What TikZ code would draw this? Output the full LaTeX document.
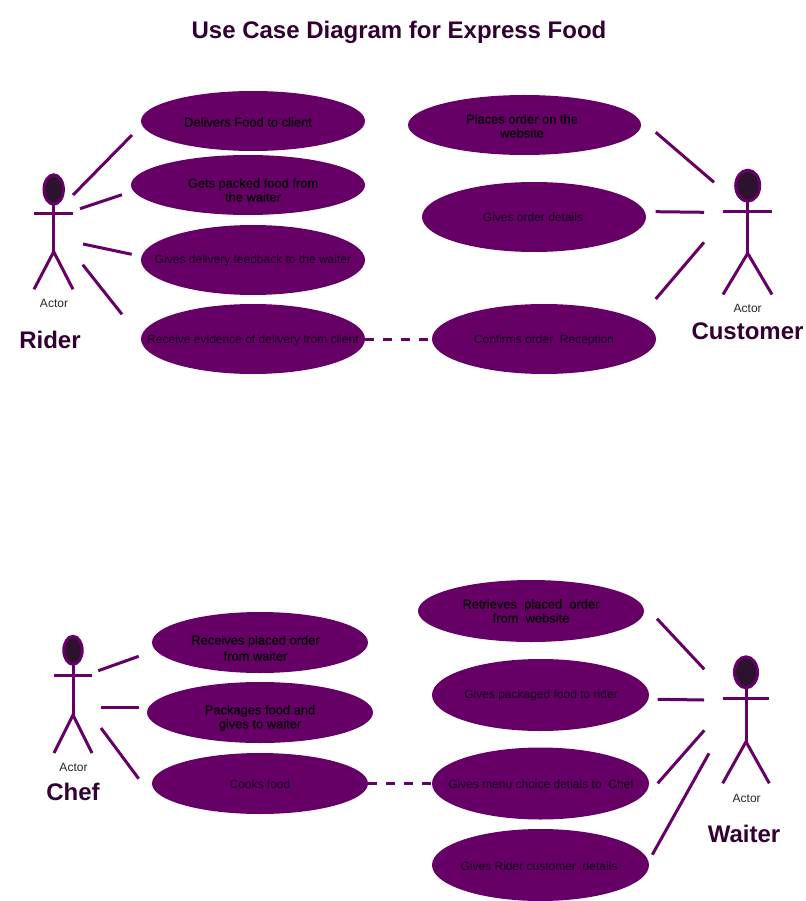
\documentclass[tikz,border=0pt]{standalone}
\usepackage{fontspec}
\setmainfont{Liberation Sans}
\newfontfamily\heavyface[FakeBold=0.4]{Liberation Sans}
\usetikzlibrary{shapes.geometric}
\definecolor{plum}{HTML}{660066}
\definecolor{darkplum}{HTML}{330033}
\definecolor{headfill}{HTML}{2D1230}
\definecolor{caseink}{HTML}{12001A}
\tikzset{
  usecase/.style={ellipse,fill=plum,inner sep=0pt},
  casetext/.style={font=\fontsize{12}{14}\selectfont,text=caseink,align=center,yshift=-0.7pt},
  heavytext/.style={font=\heavyface\fontsize{12.9}{14}\selectfont,text=black,align=center},
  assoc/.style={draw=plum,line width=3pt},
  dashedassoc/.style={assoc,dash pattern=on 8.5pt off 9.5pt},
  limb/.style={draw=plum,line width=3pt},
  actorhead/.style={draw=plum,line width=3pt,fill=headfill},
  actortext/.style={font=\fontsize{12}{14}\selectfont,text=black!85,yshift=-1pt},
  rolename/.style={font=\fontsize{24}{28}\selectfont\bfseries,text=darkplum},
}
\begin{document}
\begin{tikzpicture}[x=1pt,y=-1pt]
\useasboundingbox (0,0) rectangle (805,901);
\node[rolename] (title) at (399,32.5) {Use Case Diagram for Express Food};

% rider
\node[usecase,minimum width=224pt,minimum height=60pt] (rfood) at (253,121) {};
\node[usecase,minimum width=234pt,minimum height=60pt] (rpacked) at (248,185) {};
\node[usecase,minimum width=224pt,minimum height=70pt] (rfeedback) at (253,260) {};
\node[usecase,minimum width=224pt,minimum height=70pt] (revidence) at (253,339) {};
\node[heavytext] (rfoodtxt) at (248,122) {Delivers Food to client};
\node[heavytext] (rpackedtxt) at (253,190) {Gets packed food from\\the waiter};
\node[casetext] (rfeedbacktxt) at (253,260) {Gives delivery feedback to the waiter};
\node[casetext] (revidencetxt) at (253,340) {Receive evidence of delivery from client};
\draw[actorhead] (53.7,189.5) ellipse (9.7 and 14.7);
\draw[limb] (53.7,205) -- (53.7,251.7);
\draw[limb] (34,213.3) -- (73,213.3);
\draw[limb] (34,289.3) -- (53.7,251.7) -- (73,289.3);
\node[actortext] (ractor) at (54,302.5) {Actor};
\node[rolename] (rider) at (50,340) {Rider};
\coordinate (ra1) at (73,195); \coordinate (rb1) at (132,135);
\coordinate (ra2) at (80,208.7); \coordinate (rb2) at (122,194.7);
\coordinate (ra3) at (83,244); \coordinate (rb3) at (131.7,254.3);
\coordinate (ra4) at (82.7,264.7); \coordinate (rb4) at (122,314.3);
\draw[assoc] (ra1) -- (rb1);
\draw[assoc] (ra2) -- (rb2);
\draw[assoc] (ra3) -- (rb3);
\draw[assoc] (ra4) -- (rb4);

% customer
\node[usecase,minimum width=233pt,minimum height=60pt] (cplaces) at (524.5,125) {};
\node[usecase,minimum width=224pt,minimum height=70pt] (cdetails) at (534,217) {};
\node[usecase,minimum width=224pt,minimum height=70pt] (cconfirm) at (544,339) {};
\node[heavytext] (cplacestxt) at (522,126) {Places order on the\\website};
\node[casetext] (cdetailstxt) at (533,217) {Gives order details};
\node[casetext] (cconfirmtxt) at (544,340) {Confirms order\ \ Reception};
\draw[actorhead] (747.7,185.7) ellipse (12 and 15.5);
\draw[limb] (747.7,202.2) -- (747.7,253.3);
\draw[limb] (723.3,211.3) -- (772,211.3);
\draw[limb] (723,294.5) -- (747.7,253.3) -- (772,294.5);
\node[actortext] (cactor) at (747.7,307.7) {Actor};
\node[rolename] (customer) at (747.5,331) {Customer};
\coordinate (ca1) at (714,182.3); \coordinate (cb1) at (655.7,132.3);
\coordinate (ca2) at (704,212.3); \coordinate (cb2) at (655.7,211.7);
\coordinate (ca3) at (704,242.3); \coordinate (cb3) at (655.7,299);
\draw[assoc] (ca1) -- (cb1);
\draw[assoc] (ca2) -- (cb2);
\draw[assoc] (ca3) -- (cb3);
\draw[dashedassoc] (revidence) -- (cconfirm);

% chef
\node[usecase,minimum width=216pt,minimum height=61pt] (freceives) at (260,642.5) {};
\node[usecase,minimum width=226pt,minimum height=61pt] (fpackages) at (260,712.5) {};
\node[usecase,minimum width=216pt,minimum height=61pt] (fcooks) at (260,783.5) {};
\node[heavytext] (freceivestxt) at (255.5,648) {Receives placed order\\[2pt]from waiter};
\node[heavytext] (fpackagestxt) at (260,718) {Packages food and\\gives to waiter};
\node[casetext] (fcookstxt) at (260,784) {Cooks food};
\draw[actorhead] (73,650.3) ellipse (9.2 and 14);
\draw[limb] (73,665.3) -- (73,715);
\draw[limb] (54.3,675) -- (92,675);
\draw[limb] (54,753) -- (73,715) -- (92,753);
\node[actortext] (factor) at (73.5,766.7) {Actor};
\node[rolename] (chef) at (73,792) {Chef};
\coordinate (fa1) at (98.3,670.7); \coordinate (fb1) at (138.7,656.3);
\coordinate (fa2) at (101.3,707.3); \coordinate (fb2) at (138.7,707.3);
\coordinate (fa3) at (101,728); \coordinate (fb3) at (138.7,778.7);
\draw[assoc] (fa1) -- (fb1);
\draw[assoc] (fa2) -- (fb2);
\draw[assoc] (fa3) -- (fb3);

% waiter
\node[usecase,minimum width=226pt,minimum height=62pt] (wretrieves) at (531,611) {};
\node[usecase,minimum width=217pt,minimum height=72pt] (wpackaged) at (540.5,695) {};
\node[usecase,minimum width=217pt,minimum height=72pt] (wmenu) at (540.5,783.5) {};
\node[usecase,minimum width=217pt,minimum height=72pt] (wcustomer) at (540.5,865) {};
\node[heavytext] (wretrievestxt) at (531,611) {Retrieves\ \ placed\ \ order\\from\ \ website};
\node[casetext] (wpackagedtxt) at (541,695) {Gives packaged food to rider};
\node[casetext] (wmenutxt) at (541,784) {Gives menu choice detials to\ \ Chef};
\node[casetext] (wcustomertxt) at (539,865) {Gives Rider customer\ \ details};
\draw[actorhead] (746,672.3) ellipse (11.5 and 15.5);
\draw[limb] (746,688.3) -- (746,741.7);
\draw[limb] (722.7,698.7) -- (769.3,698.7);
\draw[limb] (722.7,783.3) -- (746,741.7) -- (769.3,783.3);
\node[actortext] (wactor) at (746.7,797) {Actor};
\node[rolename] (waiter) at (744,834) {Waiter};
\coordinate (wa1) at (704.3,669.3); \coordinate (wb1) at (657,618.7);
\coordinate (wa2) at (704,700); \coordinate (wb2) at (657.7,699.3);
\coordinate (wa3) at (704.3,730.3); \coordinate (wb3) at (657.7,783.3);
\coordinate (wa4) at (709,753.3); \coordinate (wb4) at (652.3,854.7);
\draw[assoc] (wa1) -- (wb1);
\draw[assoc] (wa2) -- (wb2);
\draw[assoc] (wa3) -- (wb3);
\draw[assoc] (wa4) -- (wb4);
\draw[dashedassoc] (fcooks) -- (wmenu);

\end{tikzpicture}
\end{document}
